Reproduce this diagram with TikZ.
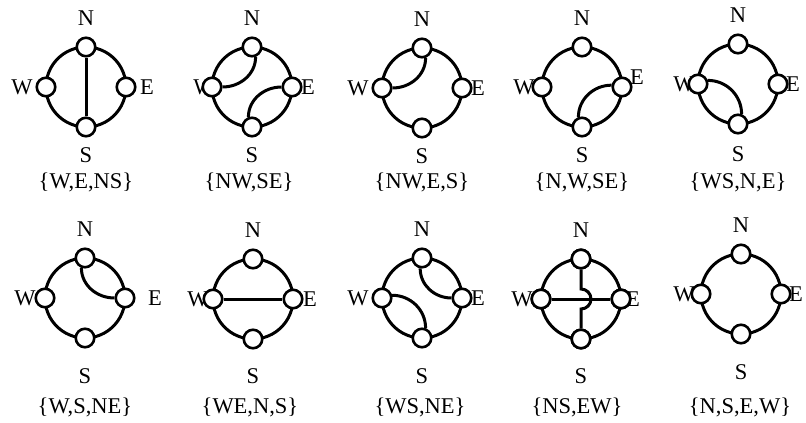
\documentclass[tikz,border=0pt]{standalone}
\usepackage{fontspec}
\setmainfont{Liberation Serif}
\newcommand\compass[7]{% name, cx, cy, W label dx, E label dx, E label dy, S label dy
  \draw[ring] (#2,-#3) circle[radius=40];
  \node[lbl] (#1lN) at (#2,-#3+69) {N};
  \node[lbl] (#1lS) at (#2,-#3-#7) {S};
  \node[lbl] (#1lW) at (#2-#4,-#3) {W};
  \node[lbl] (#1lE) at (#2+#5,-#3+#6) {E};
  \node[port] (#1N) at (#2,-#3+40) {};
  \node[port] (#1S) at (#2,-#3-40) {};
  \node[port] (#1W) at (#2-40,-#3) {};
  \node[port] (#1E) at (#2+40,-#3) {};
}
\begin{document}
\begin{tikzpicture}[x=1pt,y=1pt,
  ring/.style={line width=3pt},
  chord/.style={line width=3pt},
  port/.style={circle, draw, fill=white, line width=2.6pt, minimum size=18.5pt, inner sep=0pt},
  lbl/.style={font=\fontsize{22.5}{26}\selectfont, inner sep=0pt}]
\useasboundingbox (0,0) rectangle (806,-423);
% row 1
\compass{a}{86}{87}{64}{61}{0}{68}
\draw[chord] (aN) -- (aS);
\node[lbl] (aset) at (86,-182) {\{W,E,NS\}};

\compass{b}{252}{87}{48}{56}{0}{68}
\draw[chord] (bN.-70) to[out=-90,in=0] (bW.0);
\draw[chord] (bS.110) to[out=90,in=180] (bE.180);
\node[lbl] (bset) at (249,-182) {\{NW,SE\}};

\compass{c}{422}{88}{64}{56}{0}{68}
\draw[chord] (cN.-70) to[out=-90,in=0] (cW.0);
\node[lbl] (cset) at (422,-182) {\{NW,E,S\}};

\compass{d}{582}{87}{58}{55}{10}{68}
\draw[chord] (dS.110) to[out=90,in=180] (dE.170);
\node[lbl] (dset) at (582,-182) {\{N,W,SE\}};

\compass{e}{738}{84}{54}{55}{0}{70}
\draw[chord] (eW.20) to[out=0,in=90] (eS.70);
\node[lbl] (eset) at (738,-182) {\{WS,N,E\}};

% row 2
\compass{f}{85}{298}{60}{70}{0}{78}
\draw[chord] (fN.-110) to[out=-90,in=180] (fE.180);
\node[lbl] (fset) at (85,-407) {\{W,S,NE\}};

\compass{g}{253}{299}{55}{57}{0}{77}
\draw[chord] (gW) -- (gE);
\node[lbl] (gset) at (250,-407) {\{WE,N,S\}};

\compass{h}{422}{298}{64}{56}{0}{78}
\draw[chord] (hN.-100) to[out=-90,in=180] (hE.180);
\draw[chord] (hW.15) to[out=0,in=90] (hS.70);
\node[lbl] (hset) at (420,-407) {\{WS,NE\}};

\compass{i}{581}{299}{59}{52}{0}{77}
\coordinate (ihopT) at (581,-289);
\draw[chord] (iW) -- (iE);
\draw[chord] (iN) -- (ihopT) arc[start angle=90, end angle=-90, radius=10] -- (iS);
\node[port] at (iN) {};
\node[port] at (iS) {};
\node[port] at (iW) {};
\node[port] at (iE) {};
\node[lbl] (iset) at (577,-407) {\{NS,EW\}};

\compass{j}{741}{294}{57}{55}{0}{78}
\node[lbl] (jset) at (740,-407) {\{N,S,E,W\}};
\end{tikzpicture}
\end{document}
